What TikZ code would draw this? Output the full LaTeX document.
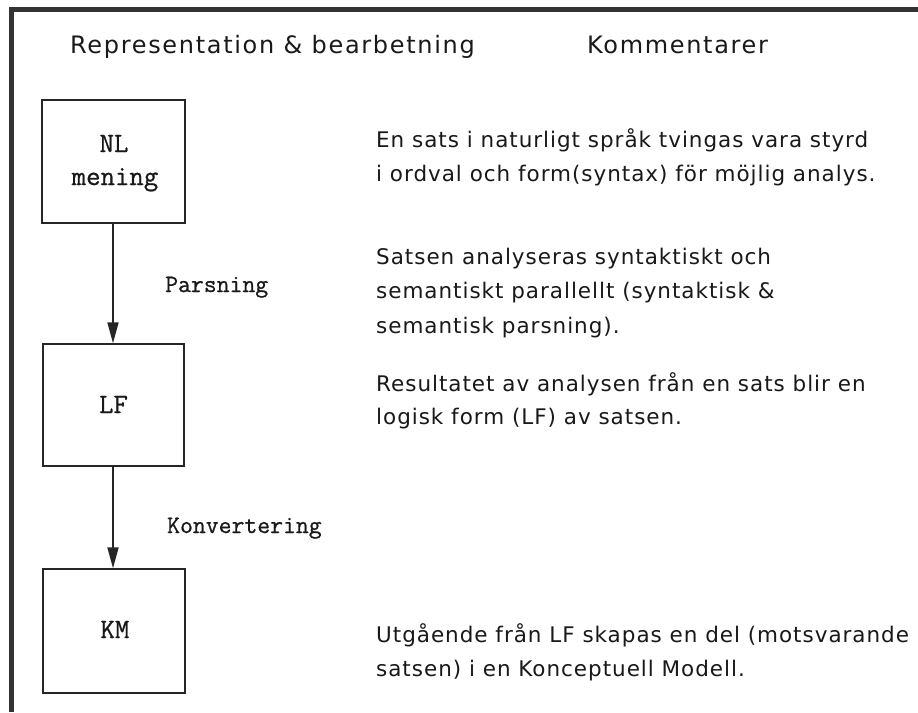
\documentclass[tikz,border=0pt]{standalone}
\usepackage{fontspec}
\setmainfont{DejaVu Sans}
\newfontfamily\hdfont[LetterSpace=7]{DejaVu Sans}
\newfontfamily\cmfont[LetterSpace=4.5]{DejaVu Sans}
\newfontfamily\twfont[FakeBold=0.8]{Latin Modern Mono}
\usetikzlibrary{arrows.meta}
\begin{document}
\begin{tikzpicture}[x=1pt,y=-1pt,
  frame/.style={line width=5pt,draw=black!80},
  procbox/.style={draw=black!85,line width=1.4pt},
  boxlabel/.style={font=\twfont\fontsize{28}{28}\selectfont,inner sep=0pt,anchor=base,text=black!90},
  steplabel/.style={font=\twfont\fontsize{25}{25}\selectfont,inner sep=0pt,anchor=base west,text=black!90},
  header/.style={font=\hdfont\fontsize{24}{24}\selectfont,inner sep=0pt,anchor=base west,text=black!90},
  comment/.style={font=\cmfont\fontsize{21.5}{21.5}\selectfont,inner sep=0pt,anchor=base west,text=black!90},
  flow/.style={draw=black!85,line width=1.8pt,-{Triangle[length=21pt,width=11pt]}}]
\useasboundingbox (0,0) rectangle (918,712);
\fill[white] (0,0) rectangle (918,712);
% frame
\coordinate (ftl) at (11.5,9.5);
\coordinate (ftr) at (918,9.5);
\coordinate (fbl) at (11.5,712);
\draw[frame] (fbl) -- (ftl) -- (ftr);
% headers
\node[header] (h1) at (70,53) {Representation \& bearbetning};
\node[header] (h2) at (587,53) {Kommentarer};
% boxes
\node[procbox,minimum width=143pt,minimum height=123pt] (nl) at (113.5,161.5) {};
\node[procbox,minimum width=141pt,minimum height=122pt] (lf) at (113.5,405) {};
\node[procbox,minimum width=142pt,minimum height=124pt] (km) at (114,631) {};
\node[boxlabel] (nlt1) at (114,152) {NL};
\node[boxlabel] (nlt2) at (115,185) {mening};
\node[boxlabel] (lft) at (113.5,413) {LF};
\node[boxlabel] (kmt) at (115,638) {KM};
% arrows
\draw[flow] (nl.south -| 113,0) -- (lf.north -| 113,0);
\draw[flow] (lf.south -| 113,0) -- (km.north -| 113,0);
\node[steplabel] (pars) at (165,292) {Parsning};
\node[steplabel] (konv) at (167,533) {Konvertering};
% comments
\node[comment] (c1a) at (376,147) {En sats i naturligt språk tvingas vara styrd};
\node[comment] (c1b) at (376,181) {i ordval och form(syntax) för möjlig analys.};
\node[comment] (c2a) at (376,264) {Satsen analyseras syntaktiskt och};
\node[comment] (c2b) at (376,298) {semantiskt parallellt (syntaktisk \&};
\node[comment] (c2c) at (376,333) {semantisk parsning).};
\node[comment] (c3a) at (376,391) {Resultatet av analysen från en sats blir en};
\node[comment] (c3b) at (376,424) {logisk form (LF) av satsen.};
\node[comment] (c4a) at (376,642) {Utgående från LF skapas en del (motsvarande};
\node[comment] (c4b) at (376,676) {satsen) i en Konceptuell Modell.};
\end{tikzpicture}
\end{document}
